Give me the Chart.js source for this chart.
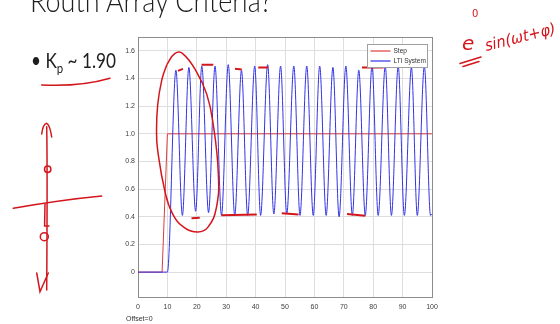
<!DOCTYPE html>
<html>
<head>
<meta charset="utf-8">
<script src="https://cdn.jsdelivr.net/npm/chart.js@4.4.1/dist/chart.umd.min.js"></script>
<style>
  html, body { margin: 0; padding: 0; background: #fff; }
  #slide { position: relative; width: 560px; height: 324px; overflow: hidden; background: #fff; }
  #chart { position: absolute; left: 0; top: 0; }
  .title { position: absolute; left: 30px; top: -15px; font: 300 31px Lato, "Open Sans", sans-serif; line-height: 30px; color: #1e1e1e; white-space: nowrap; transform-origin: 0 0; }
  .bullet { position: absolute; left: 31px; top: 48px; font: 21px Lato, "Open Sans", sans-serif; line-height: 24px; color: #1e1e1e; white-space: nowrap; transform-origin: 0 0; }
  .bullet sub { font-size: 14px; vertical-align: -5px; }
  .offset { position: absolute; left: 126px; top: 315px; font: 7px "Liberation Sans", Arial, sans-serif; color: #333; }
  .hand { position: absolute; color: #d4161c; font-family: "DejaVu Sans", sans-serif; font-style: italic; white-space: nowrap; transform-origin: 0 100%; }
  svg { position: absolute; left: 0; top: 0; }
</style>
</head>
<body>
<div id="slide">
  <canvas id="chart" width="560" height="324"></canvas>

  <div class="title" id="title">Routh Array Criteria?</div>
  <div class="bullet" id="bullet">• K<sub>p</sub> ~ 1.90</div>
  <div class="offset">Offset=0</div>

  <div class="hand" style="left:462px; top:31px; font-size:20px;">e</div>
  <div class="hand" style="left:472px; top:8px; font-size:10px; font-style:normal;">0</div>
  <div class="hand" id="sinText" style="left:487px; top:36px; font-size:16px;">sin(ωt+φ)</div>

  <svg width="560" height="324" fill="none" stroke="#d4161c" stroke-width="1.5" stroke-linecap="round">
    <!-- Kp underline -->
    <path d="M41.7 85 Q 80 87 110 78.3"/>
    <!-- scribble under e -->
    <path d="M460 63.5 L 481 57 M463 66.5 L 479 61.5"/>
    <!-- s-plane sketch -->
    <path d="M46.7 126.7 C 47.5 170, 47 240, 46.7 290"/>
    <path d="M41.7 134 Q 43 124 46.7 123.3 Q 50 125 51.7 137"/>
    <path d="M36.7 273 L 40 291.7 L 48.3 273"/>
    <path d="M13.3 208.3 Q 60 200 101.7 196"/>
    <path d="M45 204 L 44.6 226 L 49 226"/>
    <circle cx="47.7" cy="169.3" r="3.2"/>
    <circle cx="44.3" cy="236.7" r="4"/>
  </svg>
</div>

<script>
// Step input
const stepT = [0, 8.2, 10, 100];
const stepV = [0, 0, 1, 1];

// LTI system response, read at its peaks and troughs
const ltiT = [0, 10, 12.9, 15.1, 17.3, 19.6, 21.7, 24.0, 26.2, 28.4, 30.7, 32.9,
  35.2, 37.3, 39.7, 41.7, 44.1, 46.2, 48.5, 50.6, 53.0, 55.1, 57.4, 59.6, 61.8,
  64.0, 66.3, 68.4, 70.7, 72.9, 75.1, 77.3, 79.6, 81.7, 84.1, 86.2, 88.5, 90.6,
  93.0, 95.0, 97.4, 99.5, 100];
const ltiV = [0, 0, 1.46, 0.41, 1.48, 0.44, 1.49, 0.43, 1.49, 0.41, 1.50, 0.41,
  1.46, 0.41, 1.49, 0.41, 1.50, 0.42, 1.49, 0.42, 1.49, 0.41, 1.49, 0.41, 1.49,
  0.41, 1.48, 0.40, 1.49, 0.41, 1.46, 0.41, 1.49, 0.41, 1.49, 0.41, 1.49, 0.41,
  1.48, 0.41, 1.49, 0.41, 0.42];

// hand-drawn loop around the first peaks
const loopT = [9.8, 12.5, 15.2, 20.0, 23.4, 25.5, 27.3, 26.7, 23.8, 20.4, 15.9,
  11.8, 9.1, 6.7, 6.3, 6.7, 8.1, 9.8];
const loopV = [1.50, 1.58, 1.58, 1.445, 1.285, 1.08, 0.72, 0.47, 0.325, 0.29,
  0.32, 0.42, 0.59, 0.88, 1.01, 1.21, 1.39, 1.50];

// hand-drawn dashes marking peak and trough levels (null = pen lifted)
const markT = [13.6, 15.3, null, 21.6, 25.6, null, 33.0, 35.3, null, 40.9, 44.3,
  null, 76.2, 83.5, null, 18.2, 21.0, null, 28.4, 40.4, null, 48.9, 54.6, null,
  71.1, 77.3];
const markV = [1.455, 1.47, null, 1.50, 1.50, null, 1.47, 1.465, null, 1.48, 1.48,
  null, 1.48, 1.48, null, 0.39, 0.393, null, 0.412, 0.417, null, 0.425, 0.417,
  null, 0.42, 0.407];

const legendLabels = ["Step", "LTI System"];
const stepColor = "#dc3c3c";
const ltiColor = "#3232e6";
const legendColors = [stepColor, ltiColor];

const xMin = 0, xMax = 100, xStep = 10;
const yMin = -0.18, yMax = 1.7, yStep = 0.2;

const toPts = (xs, ys) => xs.map((x, i) => ({
  x: x === null ? xs[i - 1] : x,
  y: x === null ? null : ys[i]
}));

const handRed = "#d4161c";

const boxPlugin = {
  id: "box",
  beforeDatasetsDraw(chart) {
    const a = chart.chartArea, ctx = chart.ctx;
    ctx.save();
    ctx.strokeStyle = "#8c8c8c";
    ctx.lineWidth = 1;
    ctx.strokeRect(Math.round(a.left) + 0.5, Math.round(a.top) + 0.5,
      Math.round(a.right - a.left), Math.round(a.bottom - a.top));
    ctx.restore();
  }
};

// MATLAB-style legend box in the top right corner
const legendPlugin = {
  id: "scopeLegend",
  afterDatasetsDraw(chart) {
    const a = chart.chartArea, ctx = chart.ctx;
    const w = 60, rowH = 9.5;
    const x0 = Math.round(a.right - 5 - w) + 0.5, y0 = Math.round(a.top + 7) + 0.5;
    const h = legendLabels.length * rowH + 4;
    ctx.save();
    ctx.fillStyle = "#fff";
    ctx.strokeStyle = "#a0a0a0";
    ctx.lineWidth = 1;
    ctx.fillRect(x0, y0, w, h);
    ctx.strokeRect(x0, y0, w, h);
    ctx.font = "6.5px 'Liberation Sans', Arial, sans-serif";
    ctx.textBaseline = "middle";
    legendLabels.forEach((label, i) => {
      const y = Math.round(y0 + 2 + rowH * (i + 0.5));
      ctx.strokeStyle = legendColors[i];
      ctx.lineWidth = 1.2;
      ctx.beginPath();
      ctx.moveTo(x0 + 3, y);
      ctx.lineTo(x0 + 23, y);
      ctx.stroke();
      ctx.fillStyle = "#333";
      ctx.fillText(label, x0 + 26, y);
    });
    ctx.restore();
  }
};

new Chart(document.getElementById("chart"), {
  type: "line",
  data: {
    datasets: [
      {
        label: "loop",
        data: toPts(loopT, loopV),
        borderColor: handRed,
        borderWidth: 1.5,
        tension: 0.45
      },
      {
        label: "marks",
        data: toPts(markT, markV),
        borderColor: handRed,
        borderWidth: 2,
        tension: 0
      },
      {
        label: legendLabels[1],
        data: toPts(ltiT, ltiV),
        borderColor: ltiColor,
        borderWidth: 1,
        cubicInterpolationMode: "monotone"
      },
      {
        label: legendLabels[0],
        data: toPts(stepT, stepV),
        borderColor: stepColor,
        borderWidth: 1,
        tension: 0
      }
    ]
  },
  options: {
    responsive: false,
    animation: false,
    devicePixelRatio: 1,
    elements: { point: { radius: 0 } },
    layout: { padding: { left: 114, right: 128, top: 37, bottom: 13 } },
    plugins: { legend: { display: false }, tooltip: { enabled: false } },
    scales: {
      x: {
        type: "linear",
        min: xMin, max: xMax,
        ticks: {
          stepSize: xStep, padding: 6, color: "#404040",
          font: { family: "'Liberation Sans', Arial, sans-serif", size: 7 }
        },
        grid: { color: "#dedede", drawTicks: false },
        border: { display: false },
        afterFit(s) { s.height = 14; }
      },
      y: {
        type: "linear",
        min: yMin, max: yMax,
        ticks: {
          stepSize: yStep, includeBounds: false, padding: 3, color: "#404040",
          font: { family: "'Liberation Sans', Arial, sans-serif", size: 7 }
        },
        grid: { color: "#dedede", drawTicks: false },
        border: { display: false },
        afterFit(s) { s.width = 24; }
      }
    }
  },
  plugins: [boxPlugin, legendPlugin]
});

// squeeze slide texts and the handwriting to their widths on the slide
function fitWidth(id, target, extra) {
  const el = document.getElementById(id);
  const w = el.getBoundingClientRect().width;
  el.style.transform = `scaleX(${target / w}) ${extra || ""}`;
}
fitWidth("title", 242);
fitWidth("bullet", 85);
fitWidth("sinText", 72, "rotate(-13deg)");
</script>
</body>
</html>
